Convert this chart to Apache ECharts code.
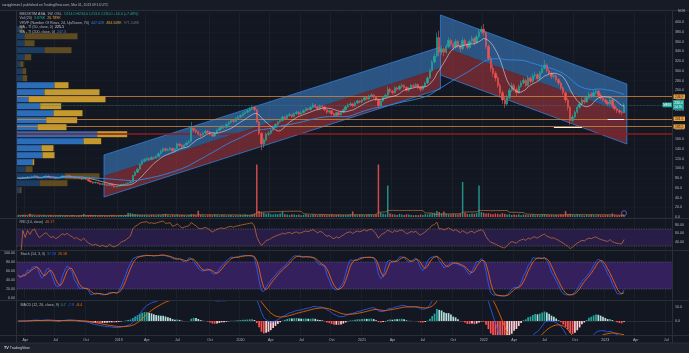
<!DOCTYPE html>
<html>
<head>
<meta charset="utf-8">
<script src="https://cdn.jsdelivr.net/npm/echarts@6/dist/echarts.min.js"></script>
<style>
html,body{margin:0;padding:0;background:#131722;overflow:hidden}
#chart{width:689px;height:353px}
</style>
</head>
<body>
<div id="chart"></div>
<script>
// ================= DATA =================
const START_WEEK = '2018-03-12';
const WEEK_COUNT = 280;          // category slots on the time axis (data + empty future)
const FIRST_OPEN = 79;
const closes = [
80,79,81,80,82,81,83,84,82,80, 81,83,84,82,80,81,79,80,82,84,
83,85,83,82,80,81,79,78,80,77, 74,72,70,71,69,67,68,66,65,67,
64,62,63,64,66,67,68,70,72,85, 92,98,108,115,118,120,118,122,121,124,
130,135,140,137,138,141,136,140,150,147, 143,148,152,155,182,178,175,170,168,172,
176,174,170,166,172,178,182,186,184,190, 194,198,196,202,205,208,212,215,218,222,
225,220,195,172,150,158,170,172,178,185, 190,195,198,205,202,208,210,206,212,215,
211,214,218,222,220,225,230,226,222,228, 226,220,215,218,212,208,214,210,215,220,
226,230,232,228,234,238,236,240,245,242, 248,250,246,240,228,238,245,250,262,258,
255,265,262,268,270,266,260,264,270,268, 272,266,262,268,275,285,300,318,330,368,
338,345,338,350,362,355,348,360,352,345, 362,355,348,360,366,358,370,380,385,378,
350,325,305,295,285,270,255,240,232,245, 260,270,262,255,268,275,280,270,285,278,
290,292,284,296,305,312,300,295,288,290, 282,275,265,255,240,225,198,205,215,225,
232,240,236,245,252,248,255,258,250,244, 240,236,232,240,228,222,218,215,214,230];
const highs = [
82,81,83,82,84,83,85,86,85,83, 82,84,86,85,83,83,82,81,83,86,
85,87,86,84,83,82,82,80,81,81, 78,75,73,73,72,70,69,69,67,68,
68,65,64,65,67,68,70,71,74,87, 95,101,111,118,121,123,122,125,124,127,
133,138,143,142,141,144,142,142,153,152, 149,150,155,158,195,186,181,177,173,175,
179,178,176,172,174,181,185,189,188,193, 197,201,200,205,208,211,215,218,221,225,
229,227,222,197,174,162,173,176,181,188, 193,198,202,208,207,211,214,212,215,218,
217,217,221,225,224,228,234,232,228,231, 230,227,222,221,219,214,216,216,218,223,
229,233,236,234,237,241,240,243,248,247, 251,254,252,248,242,241,248,253,268,265,
261,268,267,271,274,272,268,267,273,273, 275,274,268,271,278,289,304,322,336,378,
382,352,348,355,368,366,358,365,363,355, 368,366,358,364,372,369,374,386,392,396,
381,354,330,312,300,290,275,260,246,250, 265,276,274,266,272,280,286,284,290,289,
295,298,295,300,311,322,315,305,299,295, 293,285,278,268,258,244,228,210,219,230,
237,246,244,249,257,256,260,263,261,254, 247,243,239,244,242,231,225,221,218,234];
const lows = [
78,77,78,79,79,80,80,82,81,78, 79,80,82,81,79,79,78,78,79,81,
82,82,82,80,79,79,78,76,77,76, 73,71,68,69,68,66,66,65,63,64,
63,60,61,62,63,65,66,67,69,71, 84,90,97,106,113,116,115,117,118,120,
123,128,133,134,135,136,133,134,139,144, 140,141,146,150,154,174,171,167,164,166,
170,171,167,163,164,171,176,180,181,182, 188,192,193,194,200,203,206,210,213,216,
219,217,192,168,137,142,155,166,169,176, 183,187,193,196,199,200,205,203,204,209,
208,209,212,216,217,218,223,223,219,220, 222,217,212,213,209,205,206,207,208,213,
218,224,227,225,226,232,233,234,238,239, 240,245,243,237,222,226,236,243,248,254,
251,253,259,260,265,263,257,257,262,265, 265,262,257,259,266,273,283,298,315,328,
330,332,330,335,347,350,342,345,347,338, 342,350,343,345,356,352,355,366,376,372,
345,320,298,288,278,265,248,232,224,228, 242,256,257,248,252,265,272,266,268,273,
275,285,279,281,293,302,296,290,283,284, 277,270,260,250,234,218,189,194,202,212,
222,229,232,234,242,244,245,252,246,240, 236,232,228,229,224,218,213,211,209,213];
const volumes = [
5,4,6,5,4,9,5,4,3,4, 4,5,3,4,5,3,4,3,5,4,
3,4,3,5,4,3,4,5,9,4, 5,6,4,5,3,4,5,4,3,4,
5,4,3,4,5,4,6,12,11,9, 8,7,6,5,6,5,4,6,5,4,
6,5,7,9,5,4,6,5,7,5, 6,5,4,6,8,7,5,18,6,5,
4,5,6,5,7,5,4,6,5,4, 5,6,4,5,4,6,5,7,6,5,
8,10,150,17,14,12,9,11,8,7, 9,8,10,16,8,7,6,8,7,6,
7,5,6,8,6,5,7,6,5,6, 7,6,5,6,8,5,6,7,5,6,
5,6,7,16,6,5,7,6,5,6, 7,6,5,8,150,12,9,8,90,10,
8,7,6,9,7,6,8,7,6,5, 6,5,7,6,8,7,9,10,12,17,
14,10,16,9,8,7,9,8,7,10, 100,12,9,8,10,9,11,90,14,12,
10,11,9,8,10,9,8,11,9,7, 8,6,7,6,8,5,7,6,5,6,
7,5,6,5,7,8,6,5,6,5, 6,5,7,6,17,8,9,6,5,7,
6,5,4,6,5,7,5,4,6,5, 4,5,6,4,10,5,4,5,6,4];

// drawn horizontal levels (price)
const orangeLevels = [246.9, 201.5, 185.5];
const orangeLabels = ['246.9', '201.5', '185.5'];
const pocLevel = 170;
const lastPrice = 230;
const lastPriceLabel = '230.0';
const countdownLabel = '2d 7h';
const tickerLabel = 'MEDI';
// white support segments: [startWeekIndex, endWeekIndex, price]
const supportSegments = [[229, 241, 185], [252, 259, 201.5]];
// regression channels: week index of ends, [top, mid, bottom] prices at each end
const channelStartWeek = [36.7, 180.5];
const channelEndWeek = [180.5, 260.2];
const channelStartPrices = [[127.2, 84.1, 41.0], [414.4, 350.8, 291.3]];
const channelEndPrices = [[348.7, 305.6, 262.6], [272.8, 211.3, 149.7]];
// volume profile rows (bottom to top)
const vrvpEdges = [47.8,62.16,76.52,90.88,105.24,119.6,133.96,148.32,162.68,177.04,191.4,205.76,220.12,234.48,248.84,263.2,277.56,291.92,306.28,320.64,335.0,349.36,363.72,378.08,392.44];
const vrvpUp   = [25,225,475,85,155,255,245,665,802,205,292,365,232,115,275,375,55,55,32,75,275,75,75,35];
const vrvpDown = [20,280,350,70,17,120,120,177,300,290,310,290,210,770,550,140,47,37,33,67,270,100,530,20];
const vrvpValueArea = [0,0,0,0,1,1,1,1,1,1,1,1,1,1,1,1,0,0,0,0,0,0,0,0];
const rsiBand = [30, 70];
const stochBand = [20, 80];

// ================= BUILD =================
const MONTHS = ['Jan','Feb','Mar','Apr','May','Jun','Jul','Aug','Sep','Oct','Nov','Dec'];
const weeks = [];
(function(){ const t0 = Date.parse(START_WEEK + 'T00:00:00Z');
  for (let k = 0; k < WEEK_COUNT; k++) weeks.push(new Date(t0 + k * 7 * 864e5).toISOString().slice(0,10)); })();
function isQuarter(v){ const d = new Date(v + 'T00:00:00Z'); return d.getUTCMonth() % 3 === 0 && d.getUTCDate() <= 7; }
function qLabel(v){ const d = new Date(v + 'T00:00:00Z'); const m = d.getUTCMonth(); return m === 0 ? String(d.getUTCFullYear()) : MONTHS[m]; }

const opens = closes.map((c, i) => i === 0 ? FIRST_OPEN : closes[i - 1]);
function sma(a, n){ return a.map((_, i) => { const s = Math.max(0, i - n + 1); let t = 0; for (let j = s; j <= i; j++) t += a[j]; return t / (i - s + 1); }); }
function ema(a, n){ const k = 2 / (n + 1); const o = []; a.forEach((v, i) => o.push(i === 0 ? v : v * k + o[i - 1] * (1 - k))); return o; }
function rsiCalc(c, n){ const o = [null]; let ag = 0, al = 0;
  for (let i = 1; i < c.length; i++){ const ch = c[i] - c[i-1], g = Math.max(ch,0), l = Math.max(-ch,0);
    if (i <= n){ ag = (ag*(i-1)+g)/i; al = (al*(i-1)+l)/i; } else { ag = (ag*(n-1)+g)/n; al = (al*(n-1)+l)/n; }
    o.push(al === 0 ? 100 : 100 - 100/(1+ag/al)); } return o; }

const ma10 = sma(closes, 10);
const ma40 = sma(closes, 40);
const volMa = sma(volumes, 20);
const rsi = rsiCalc(closes, 14);
const rawK = closes.map((c, i) => { const s = Math.max(0, i - 13); let hh = -Infinity, ll = Infinity;
  for (let j = s; j <= i; j++){ hh = Math.max(hh, highs[j]); ll = Math.min(ll, lows[j]); } return hh === ll ? 50 : 100*(c-ll)/(hh-ll); });
const stochK = sma(rawK, 3), stochD = sma(stochK, 3);
const e12 = ema(closes, 12), e26 = ema(closes, 26);
const macd = e12.map((v, i) => v - e26[i]);
const signal = ema(macd, 9);
const hist = macd.map((v, i) => v - signal[i]);

const UP = '#26a69a', DN = '#ef5350';
const candleData = closes.map((c, i) => [opens[i], c, lows[i], highs[i]]);
const volData = volumes.map((v, i) => ({ value: v, itemStyle: { color: closes[i] >= opens[i] ? 'rgba(38,166,154,0.85)' : 'rgba(239,83,80,0.85)' } }));
const histData = hist.map((h, i) => { const p = i > 0 ? hist[i-1] : h; let col;
  if (h >= 0) col = h >= p ? '#26a69a' : '#b2dfdb'; else col = h < p ? '#ff5252' : '#ffcdd2';
  return { value: h, itemStyle: { color: col } }; });
const vrvpData = vrvpUp.map((u, k) => [vrvpEdges[k], vrvpEdges[k+1], u, vrvpDown[k], vrvpValueArea[k]]);
const channelData = channelStartWeek.map((s, k) => [s, ...channelStartPrices[k], channelEndWeek[k], ...channelEndPrices[k]]);

// ================= LAYOUT / STYLE =================
const FONT = '"Liberation Sans", Arial, sans-serif';
const TXT = '#b2b5be';
const FS = 3.6;
const L = 17, R = 17;
const G_MAIN = { left: L, right: R, top: 12.25, height: 204.75, outerBoundsMode: 'none' };
const gridDefs = [
  G_MAIN,
  { left: L, right: R, top: 120, height: 97, outerBoundsMode: 'none' },
  G_MAIN, G_MAIN,
  { left: L, right: R, top: 216.25, height: 34, outerBoundsMode: 'none' },
  { left: L, right: R, top: 253, height: 45, outerBoundsMode: 'none' },
  { left: L, right: R, top: 300.7, height: 34.8, outerBoundsMode: 'none' }
];
const vSplit = { show: true, interval: (i, v) => isQuarter(v), lineStyle: { color: '#1e222d', width: 0.7 } };
function catAxis(g, withLabels){ return { type: 'category', gridIndex: g, data: weeks, boundaryGap: true,
  axisLine: { show: withLabels, lineStyle: { color: '#2a2e39' } }, axisTick: { show: false },
  axisLabel: { show: withLabels, interval: (i, v) => isQuarter(v), formatter: qLabel, color: TXT, fontSize: FS, fontFamily: FONT, margin: 2.5 },
  splitLine: vSplit }; }

const bandSeries = (xi, band, fill) => ({ type: 'custom', xAxisIndex: xi, yAxisIndex: xi, silent: true, z: 1,
  data: [[0, band[0], band[1]]], encode: { x: 0, y: [1, 2] },
  renderItem: (params, api) => { const cs = params.coordSys; const yHi = api.coord([0, api.value(2)])[1], yLo = api.coord([0, api.value(1)])[1];
    return { type: 'group', children: [
      { type: 'rect', shape: { x: cs.x, y: yHi, width: cs.width, height: yLo - yHi }, style: { fill: fill } },
      { type: 'line', shape: { x1: cs.x, y1: yHi, x2: cs.x + cs.width, y2: yHi }, style: { stroke: '#6a6d78', lineWidth: 0.6, lineDash: [1.2, 1.2] } },
      { type: 'line', shape: { x1: cs.x, y1: yLo, x2: cs.x + cs.width, y2: yLo }, style: { stroke: '#6a6d78', lineWidth: 0.6, lineDash: [1.2, 1.2] } } ] }; } });

const lvlLabel = (t) => ({ show: true, position: 'end', formatter: t, backgroundColor: '#f0a23a', color: '#131722', fontSize: 3.4, fontFamily: FONT, padding: [0.8, 1.5, 0.6, 1.5], distance: 1.5 });
const markLines = [];
orangeLevels.forEach((v, k) => markLines.push({ yAxis: v, lineStyle: { color: '#d0883a', width: 0.8, type: 'solid' }, label: lvlLabel(orangeLabels[k]) }));
markLines.push({ yAxis: pocLevel, lineStyle: { color: '#8c1d22', width: 1.6, type: 'solid' }, label: { show: false } });
markLines.push({ yAxis: lastPrice, lineStyle: { color: '#3f7a74', width: 0.7, type: 'dotted' },
  label: { show: true, position: 'end', distance: 1, formatter: '{p|' + lastPriceLabel + '}\n{c|' + countdownLabel + '}', backgroundColor: '#26a69a', padding: [0.8, 1.2, 0.6, 1.2],
    rich: { p: { color: '#ffffff', fontSize: 3.4, fontFamily: FONT, lineHeight: 4.2 }, c: { color: '#e0f2f1', fontSize: 3.2, fontFamily: FONT, lineHeight: 4 } } } });
supportSegments.forEach(s => markLines.push([{ coord: [weeks[s[0]], s[2]], lineStyle: { color: '#f0f0f0', width: 1, type: 'solid' }, label: { show: false } }, { coord: [weeks[s[1]], s[2]] }]));

const option = {
  backgroundColor: '#131722',
  animation: false,
  grid: gridDefs,
  xAxis: [
    catAxis(0, false),
    { type: 'category', gridIndex: 1, data: weeks, show: false },
    { type: 'value', gridIndex: 2, min: -0.5, max: WEEK_COUNT - 0.5, show: false },
    { type: 'value', gridIndex: 3, min: 0, max: 6550, show: false },
    catAxis(4, false), catAxis(5, false), catAxis(6, true)
  ],
  yAxis: [
    { type: 'value', gridIndex: 0, position: 'right', min: 0, max: 420, interval: 20,
      axisLabel: { color: TXT, fontSize: FS, fontFamily: FONT, margin: 3, showMaxLabel: false, formatter: v => v.toFixed(1) },
      axisLine: { show: false }, axisTick: { show: false }, splitLine: { show: true, lineStyle: { color: '#191d28', width: 0.6 } } },
    { type: 'value', gridIndex: 1, min: 0, max: 277, show: false },
    { type: 'value', gridIndex: 2, min: 0, max: 420, show: false },
    { type: 'value', gridIndex: 3, min: 0, max: 420, show: false },
    { type: 'value', gridIndex: 4, position: 'right', min: 20, max: 100, interval: 20,
      axisLabel: { color: TXT, fontSize: FS, fontFamily: FONT, margin: 3, showMinLabel: false, showMaxLabel: false, formatter: v => v.toFixed(2) },
      axisLine: { show: false }, axisTick: { show: false }, splitLine: { show: false } },
    { type: 'value', gridIndex: 5, position: 'left', min: 0, max: 100, interval: 20,
      axisLabel: { color: TXT, fontSize: FS, fontFamily: FONT, margin: 2, formatter: v => v.toFixed(2) },
      axisLine: { show: false }, axisTick: { show: false }, splitLine: { show: false } },
    { type: 'value', gridIndex: 6, position: 'right', min: -10, max: 14, interval: 10,
      axisLabel: { color: TXT, fontSize: FS, fontFamily: FONT, margin: 3, showMinLabel: false, showMaxLabel: false, formatter: v => v.toFixed(1) },
      axisLine: { show: false }, axisTick: { show: false }, splitLine: { show: false } }
  ],
  series: [
    { type: 'custom', name: 'VRVP', xAxisIndex: 3, yAxisIndex: 3, silent: true, z: 1, data: vrvpData,
      renderItem: (params, api) => { const lo = api.value(0), hi = api.value(1), up = api.value(2), dn = api.value(3), va = api.value(4);
        const a = api.coord([0, hi]), b = api.coord([up, lo]), c = api.coord([up + dn, lo]);
        const h = b[1] - a[1] - 1;
        return { type: 'group', children: [
          { type: 'rect', shape: { x: a[0], y: a[1] + 0.5, width: b[0] - a[0], height: h }, style: { fill: va ? '#2b6db8' : '#1c3d63' } },
          { type: 'rect', shape: { x: b[0], y: a[1] + 0.5, width: c[0] - b[0], height: h }, style: { fill: va ? '#c49a2e' : '#5e4b22' } } ] }; } },
    { type: 'custom', name: 'Channels', xAxisIndex: 2, yAxisIndex: 2, silent: true, z: 2, data: channelData,
      renderItem: (params, api) => { const P = (x, y) => api.coord([x, y]);
        const x1 = api.value(0), x2 = api.value(4);
        const t1 = P(x1, api.value(1)), m1 = P(x1, api.value(2)), b1 = P(x1, api.value(3));
        const t2 = P(x2, api.value(5)), m2 = P(x2, api.value(6)), b2 = P(x2, api.value(7));
        return { type: 'group', children: [
          { type: 'polygon', shape: { points: [t1, t2, m2, m1] }, style: { fill: 'rgba(66,135,210,0.55)' } },
          { type: 'polygon', shape: { points: [m1, m2, b2, b1] }, style: { fill: 'rgba(190,60,65,0.5)' } },
          { type: 'polygon', shape: { points: [t1, t2, b2, b1] }, style: { fill: 'none', stroke: '#2f80d8', lineWidth: 0.8 } } ] }; } },
    { type: 'bar', name: 'Volume', xAxisIndex: 1, yAxisIndex: 1, data: volData, barWidth: 1.5, z: 3, silent: true },
    { type: 'line', name: 'VolMA', xAxisIndex: 1, yAxisIndex: 1, data: volMa, showSymbol: false, symbol: 'none', z: 4, silent: true,
      lineStyle: { color: '#b9793a', width: 0.7 } },
    { type: 'scatter', xAxisIndex: 1, yAxisIndex: 1, data: [[weeks[closes.length - 1], 11]], symbol: 'circle', symbolSize: 5, z: 6, silent: true,
      itemStyle: { color: 'rgba(0,0,0,0)', borderColor: '#a06ad8', borderWidth: 0.8 } },
    { type: 'candlestick', name: 'Price', xAxisIndex: 0, yAxisIndex: 0, data: candleData, barWidth: 1.9, z: 5, silent: true,
      itemStyle: { color: UP, color0: DN, borderColor: UP, borderColor0: DN, borderWidth: 0.6 },
      markLine: { symbol: ['none', 'none'], silent: true, animation: false, data: markLines } },
    { type: 'line', name: 'MA50', xAxisIndex: 0, yAxisIndex: 0, data: ma10, symbol: 'none', z: 6, silent: true,
      lineStyle: { color: 'rgba(225,215,230,0.8)', width: 0.75 } },
    { type: 'line', name: 'MA200', xAxisIndex: 0, yAxisIndex: 0, data: ma40, symbol: 'none', z: 6, silent: true,
      lineStyle: { color: '#2d8ae8', width: 0.9 } },
    bandSeries(4, rsiBand, '#281d46'),
    { type: 'line', name: 'RSI', xAxisIndex: 4, yAxisIndex: 4, data: rsi, symbol: 'none', z: 3, silent: true,
      lineStyle: { color: '#d6733a', width: 0.7 } },
    bandSeries(5, stochBand, '#35205e'),
    { type: 'line', name: '%K', xAxisIndex: 5, yAxisIndex: 5, data: stochK, symbol: 'none', z: 3, silent: true,
      lineStyle: { color: '#2962ff', width: 0.8 } },
    { type: 'line', name: '%D', xAxisIndex: 5, yAxisIndex: 5, data: stochD, symbol: 'none', z: 3, silent: true,
      lineStyle: { color: '#ff6d00', width: 0.8 } },
    { type: 'bar', name: 'Histogram', xAxisIndex: 6, yAxisIndex: 6, data: histData, barWidth: 1.7, z: 2, silent: true },
    { type: 'line', name: 'MACD', xAxisIndex: 6, yAxisIndex: 6, data: macd, symbol: 'none', z: 3, silent: true,
      lineStyle: { color: '#2962ff', width: 0.8 } },
    { type: 'line', name: 'Signal', xAxisIndex: 6, yAxisIndex: 6, data: signal, symbol: 'none', z: 3, silent: true,
      lineStyle: { color: '#ff6d00', width: 0.8 } }
  ]
};

const T = (x, y, text, rich, size) => ({ type: 'text', x: x, y: y, z: 100, silent: true,
  style: { text: text, fill: TXT, fontSize: size || FS, fontFamily: FONT, verticalAlign: 'middle', rich: rich || {} } });
const rc = (c) => ({ fill: c, color: c, fontSize: FS, fontFamily: FONT });
const HL = (y) => ({ type: 'line', z: 90, silent: true, shape: { x1: 0, y1: y, x2: 689, y2: y }, style: { stroke: '#2a2e39', lineWidth: 1 } });
const VL = (x) => ({ type: 'line', z: 90, silent: true, shape: { x1: x, y1: 10, x2: x, y2: 343 }, style: { stroke: '#2a2e39', lineWidth: 1 } });
const graphics = [
  { type: 'rect', z: 80, silent: true, shape: { x: 0, y: 0, width: 689, height: 10 }, style: { fill: '#171b26' } },
  { type: 'rect', z: 80, silent: true, shape: { x: 0, y: 343, width: 689, height: 10 }, style: { fill: '#1e222d' } },
  HL(10.5), HL(218.5), HL(250.5), HL(300.5), HL(335.5), HL(343), VL(16.5), VL(672.5),
  T(2, 5, 'sarojghimire1 published on TradingView.com, Mar 01, 2023 09:14 UTC', null, 3.4),
  T(19.5, 13.5, '{g|MEDISTIM ASA, 1W, OSL}  {t|O214.0 H234.0 L213.0 C230.0 +16.0 (+7.48%)}', { g: rc(TXT), t: rc('#26a69a') }),
  T(19.5, 18, '{g|Vol (20)}  {t|3.876K}  {o|26.789K}', { g: rc(TXT), t: rc('#26a69a'), o: rc('#f0a23a') }),
  T(19.5, 22.5, '{g|VRVP (Number Of Rows, 24, Up/Down, 70)}  {b|447.42K}  {y|484.508K}  {d|971.548K}', { g: rc(TXT), b: rc('#2f7fd6'), y: rc('#d4a534'), d: rc('#6a6d78') }),
  T(19.5, 27, '{g|MA - TI (50, close, 0)}  {w|225.1}', { g: rc(TXT), w: rc('#e6e0ea') }),
  T(19.5, 31.5, '{g|MA - TI (200, close, 0)}  {b|247.3}', { g: rc(TXT), b: rc('#2d8ae8') }),
  T(678, 11.5, 'NOK', null, 3.4),
  T(19.5, 222.3, '{g|RSI (14, close)}  {o|46.17}', { g: rc(TXT), o: rc('#d6733a') }),
  T(20.5, 254, '{g|Stoch (14, 3, 3)}  {b|37.28}  {o|26.18}', { g: rc(TXT), b: rc('#2962ff'), o: rc('#ff6d00') }),
  T(20.5, 305, '{g|MACD (12, 26, close, 9)}  {t|0.7}  {b|-7.8}  {o|-8.4}', { g: rc(TXT), t: rc('#26a69a'), b: rc('#2962ff'), o: rc('#ff6d00') }),
  T(4, 348, '{l|TV} {n|TradingView}', { l: { fill: '#d1d4dc', fontSize: 3.8, fontWeight: 'bold', fontFamily: FONT }, n: { fill: '#d1d4dc', fontSize: 3.6, fontFamily: FONT } })
];
option.graphic = graphics;

const chart = echarts.init(document.getElementById('chart'), null, { renderer: 'canvas', width: 689, height: 353 });
chart.setOption(option);
// ticker box just left of the price scale, at the last price
const yLast = chart.convertToPixel({ yAxisIndex: 0 }, lastPrice);
graphics.push({ type: 'rect', z: 95, silent: true, shape: { x: 662.5, y: yLast - 2.4, width: 9.5, height: 4.8 }, style: { fill: '#26a69a' } });
graphics.push({ type: 'text', z: 96, silent: true, x: 667.2, y: yLast, style: { text: tickerLabel, fill: '#ffffff', fontSize: 3.2, fontFamily: FONT, align: 'center', verticalAlign: 'middle' } });
chart.setOption({ graphic: graphics });
</script>
</body>
</html>
